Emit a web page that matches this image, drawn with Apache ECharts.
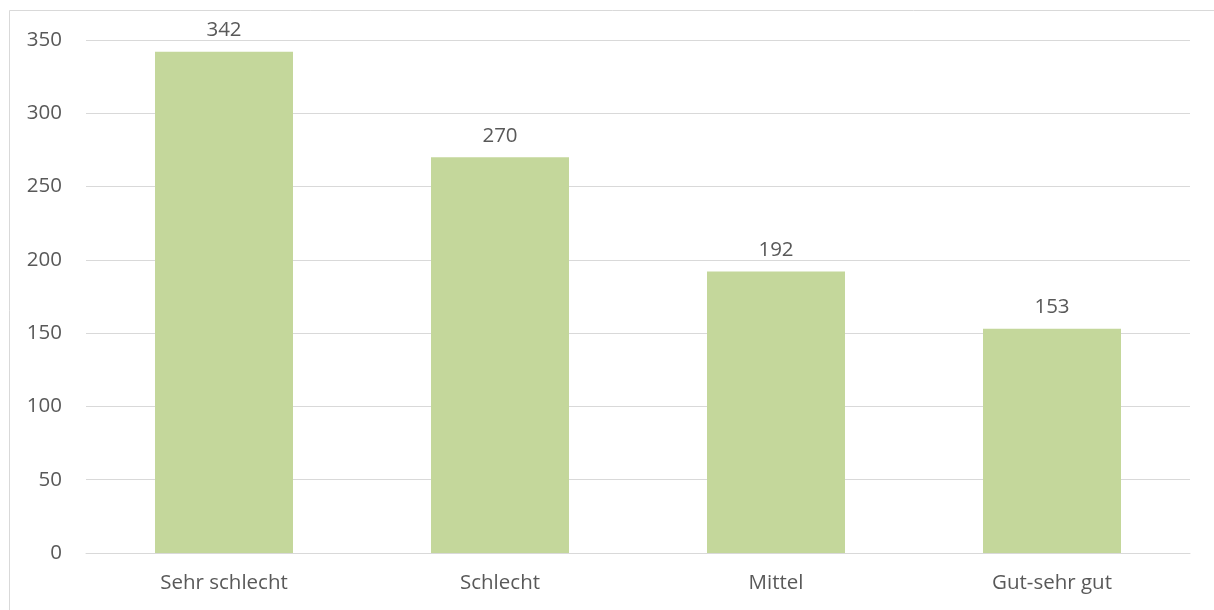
<!DOCTYPE html>
<html>
<head>
<meta charset="utf-8">
<script src="https://cdn.jsdelivr.net/npm/echarts@6/dist/echarts.min.js"></script>
<style>
  html, body { margin: 0; padding: 0; background: #fff; }
  #chart { width: 1214px; height: 610px; }
</style>
</head>
<body>
<div id="chart"></div>
<script>
const categories = ['Sehr schlecht', 'Schlecht', 'Mittel', 'Gut-sehr gut'];
const values = [342, 270, 192, 153];
const yTicks = [0, 50, 100, 150, 200, 250, 300, 350];

const FONT = '"Open Sans", "Liberation Sans", sans-serif';
const TEXT = '#595959';
const SIZE = 20.5;

const chart = echarts.init(document.getElementById('chart'), null, { renderer: 'canvas' });
chart.setOption({
  animation: false,
  backgroundColor: '#fff',
  graphic: [{
    type: 'rect',
    shape: { x: 9.5, y: 10.5, width: 1400, height: 800 },
    style: { fill: 'none', stroke: '#d9d9d9', lineWidth: 1 },
    silent: true
  }],
  grid: { left: 86, right: 24, top: 40, bottom: 57, containLabel: false },
  xAxis: {
    type: 'category',
    data: categories,
    axisLine: { show: true, lineStyle: { color: '#d9d9d9', width: 1 } },
    axisTick: { show: false },
    axisLabel: { color: TEXT, fontFamily: FONT, fontSize: SIZE, lineHeight: 21, margin: 20 }
  },
  yAxis: {
    type: 'value',
    min: yTicks[0],
    max: yTicks[yTicks.length - 1],
    interval: 50,
    axisLine: { show: false },
    axisTick: { show: false },
    splitLine: { lineStyle: { color: '#d9d9d9', width: 1 } },
    axisLabel: { color: TEXT, fontFamily: FONT, fontSize: SIZE, margin: 24 }
  },
  series: [{
    type: 'bar',
    data: values,
    barWidth: '50%',
    itemStyle: { color: '#c4d79b' },
    label: {
      show: true,
      position: 'top',
      distance: 11,
      color: TEXT,
      fontFamily: FONT,
      fontSize: SIZE,
      lineHeight: 21
    }
  }]
});
</script>
</body>
</html>
